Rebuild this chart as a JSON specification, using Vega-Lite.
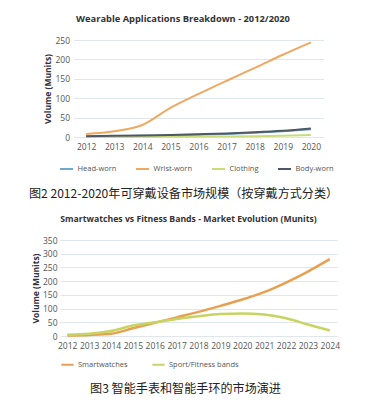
{
  "$schema": "https://vega.github.io/schema/vega-lite/v6.json",
  "background": "white",
  "padding": {"left": 28, "top": 14, "right": 0, "bottom": 0},
  "center": true,
  "bounds": "flush",
  "spacing": 103,
  "resolve": {"scale": {"color": "independent"}, "legend": {"color": "independent"}},
  "datasets": {
    "wear": [
      {"year": "2012", "type": "Head-worn", "v": 1}, {"year": "2013", "type": "Head-worn", "v": 2}, {"year": "2014", "type": "Head-worn", "v": 3}, {"year": "2015", "type": "Head-worn", "v": 4}, {"year": "2016", "type": "Head-worn", "v": 6}, {"year": "2017", "type": "Head-worn", "v": 8}, {"year": "2018", "type": "Head-worn", "v": 11}, {"year": "2019", "type": "Head-worn", "v": 15}, {"year": "2020", "type": "Head-worn", "v": 20},
      {"year": "2012", "type": "Wrist-worn", "v": 8}, {"year": "2013", "type": "Wrist-worn", "v": 15}, {"year": "2014", "type": "Wrist-worn", "v": 31}, {"year": "2015", "type": "Wrist-worn", "v": 75}, {"year": "2016", "type": "Wrist-worn", "v": 111}, {"year": "2017", "type": "Wrist-worn", "v": 145}, {"year": "2018", "type": "Wrist-worn", "v": 178}, {"year": "2019", "type": "Wrist-worn", "v": 212}, {"year": "2020", "type": "Wrist-worn", "v": 244},
      {"year": "2012", "type": "Clothing", "v": 0}, {"year": "2013", "type": "Clothing", "v": 0}, {"year": "2014", "type": "Clothing", "v": 0.5}, {"year": "2015", "type": "Clothing", "v": 0.5}, {"year": "2016", "type": "Clothing", "v": 1}, {"year": "2017", "type": "Clothing", "v": 1.5}, {"year": "2018", "type": "Clothing", "v": 2}, {"year": "2019", "type": "Clothing", "v": 3}, {"year": "2020", "type": "Clothing", "v": 5},
      {"year": "2012", "type": "Body-worn", "v": 2}, {"year": "2013", "type": "Body-worn", "v": 3}, {"year": "2014", "type": "Body-worn", "v": 4}, {"year": "2015", "type": "Body-worn", "v": 5}, {"year": "2016", "type": "Body-worn", "v": 7}, {"year": "2017", "type": "Body-worn", "v": 9}, {"year": "2018", "type": "Body-worn", "v": 12}, {"year": "2019", "type": "Body-worn", "v": 16}, {"year": "2020", "type": "Body-worn", "v": 22}
    ],
    "sw": [
      {"year": "2012", "type": "Smartwatches", "v": 2}, {"year": "2013", "type": "Smartwatches", "v": 4}, {"year": "2014", "type": "Smartwatches", "v": 8}, {"year": "2015", "type": "Smartwatches", "v": 28}, {"year": "2016", "type": "Smartwatches", "v": 48}, {"year": "2017", "type": "Smartwatches", "v": 68}, {"year": "2018", "type": "Smartwatches", "v": 88}, {"year": "2019", "type": "Smartwatches", "v": 110}, {"year": "2020", "type": "Smartwatches", "v": 133}, {"year": "2021", "type": "Smartwatches", "v": 160}, {"year": "2022", "type": "Smartwatches", "v": 195}, {"year": "2023", "type": "Smartwatches", "v": 235}, {"year": "2024", "type": "Smartwatches", "v": 280},
      {"year": "2012", "type": "Sport/Fitness bands", "v": 5}, {"year": "2013", "type": "Sport/Fitness bands", "v": 8}, {"year": "2014", "type": "Sport/Fitness bands", "v": 18}, {"year": "2015", "type": "Sport/Fitness bands", "v": 38}, {"year": "2016", "type": "Sport/Fitness bands", "v": 50}, {"year": "2017", "type": "Sport/Fitness bands", "v": 62}, {"year": "2018", "type": "Sport/Fitness bands", "v": 72}, {"year": "2019", "type": "Sport/Fitness bands", "v": 80}, {"year": "2020", "type": "Sport/Fitness bands", "v": 82}, {"year": "2021", "type": "Sport/Fitness bands", "v": 78}, {"year": "2022", "type": "Sport/Fitness bands", "v": 65}, {"year": "2023", "type": "Sport/Fitness bands", "v": 42}, {"year": "2024", "type": "Sport/Fitness bands", "v": 20}
    ]
  },
  "vconcat": [
    {
      "title": {"text": "图2 2012-2020年可穿戴设备市场规模（按穿戴方式分类）", "orient": "bottom", "anchor": "middle", "frame": "group", "dx": -15, "offset": 15, "font": "Noto Sans CJK SC", "fontSize": 12.1, "fontWeight": "normal", "color": "#222"},
      "width": 250,
      "height": 97,
      "data": {"name": "wear"},
      "resolve": {"axis": {"x": "independent"}},
      "encoding": {
        "y": {"field": "v", "type": "quantitative", "scale": {"domain": [0, 250]}, "axis": {"title": "Volume (Munits)", "titleFontSize": 8.5, "titleFontWeight": "bold", "titleColor": "#334", "titlePadding": 2, "values": [0, 50, 100, 150, 200, 250], "domain": false, "ticks": false, "labelFontSize": 8.5, "labelColor": "#555", "labelPadding": 4, "gridColor": "#dfe6ec"}}
      },
      "layer": [
        {
          "mark": {"type": "line", "opacity": 0},
          "encoding": {
            "x": {"field": "year", "type": "ordinal", "scale": {"type": "point", "padding": 0.45}, "axis": {"orient": "top", "title": "Wearable Applications Breakdown - 2012/2020", "titleFontSize": 9.3, "titleFont": "Open Sans", "titleFontWeight": "bold", "titleColor": "#333", "titlePadding": 17, "titleX": 109, "labels": false, "grid": false, "domain": false, "ticks": false}}
          }
        },
        {
          "mark": {"type": "line", "interpolate": "monotone", "strokeWidth": 2},
          "encoding": {
            "x": {"field": "year", "type": "ordinal", "axis": {"title": null, "labelAngle": 0, "grid": false, "domain": false, "ticks": false, "labelFontSize": 8.5, "labelColor": "#555", "labelPadding": 5}},
            "color": {"field": "type", "type": "nominal", "sort": ["Head-worn", "Wrist-worn", "Clothing", "Body-worn"], "scale": {"domain": ["Head-worn", "Wrist-worn", "Clothing", "Body-worn"], "range": ["#6fa8c8", "#f0a860", "#cadc78", "#4f5664"]}, "legend": {"orient": "none", "legendX": -15, "legendY": 121, "direction": "horizontal", "title": null, "symbolType": "stroke", "symbolStrokeWidth": 2, "symbolSize": 170, "labelFontSize": 7.5, "labelColor": "#555", "labelOffset": 3, "columnPadding": 15}}
          }
        }
      ]
    },
    {
      "title": {"text": "图3 智能手表和智能手环的市场演进", "orient": "bottom", "anchor": "middle", "frame": "group", "dx": -13, "offset": 14, "font": "Noto Sans CJK SC", "fontSize": 12.1, "fontWeight": "normal", "color": "#222"},
      "width": 277,
      "height": 96,
      "data": {"name": "sw"},
      "resolve": {"axis": {"x": "independent"}},
      "encoding": {
        "y": {"field": "v", "type": "quantitative", "scale": {"domain": [0, 350]}, "axis": {"title": "Volume (Munits)", "titleFontSize": 8.5, "titleFontWeight": "bold", "titleColor": "#334", "titlePadding": 2, "values": [0, 50, 100, 150, 200, 250, 300, 350], "domain": false, "ticks": false, "labelFontSize": 8.5, "labelColor": "#555", "labelPadding": 3, "gridColor": "#dfe6ec"}}
      },
      "layer": [
        {
          "mark": {"type": "line", "opacity": 0},
          "encoding": {
            "x": {"field": "year", "type": "ordinal", "scale": {"type": "point", "padding": 0.33}, "axis": {"orient": "top", "title": "Smartwatches vs Fitness Bands - Market Evolution (Munits)", "titleFontSize": 8.7, "titleFont": "Open Sans", "titleFontWeight": "bold", "titleColor": "#333", "titlePadding": 17, "titleX": 128, "labels": false, "grid": false, "domain": false, "ticks": false}}
          }
        },
        {
          "mark": {"type": "line", "interpolate": "monotone", "strokeWidth": 2.5},
          "encoding": {
            "x": {"field": "year", "type": "ordinal", "axis": {"title": null, "labelAngle": 0, "grid": false, "domain": false, "ticks": false, "labelFontSize": 8.5, "labelColor": "#555", "labelPadding": 5}},
            "color": {"field": "type", "type": "nominal", "scale": {"domain": ["Smartwatches", "Sport/Fitness bands"], "range": ["#e8a050", "#c8d462"]}, "legend": {"orient": "none", "legendX": 0, "legendY": 117, "direction": "horizontal", "title": null, "symbolType": "stroke", "symbolStrokeWidth": 2, "symbolSize": 150, "labelFontSize": 7.5, "labelColor": "#555", "labelOffset": 3, "columnPadding": 20}}
          }
        }
      ]
    }
  ],
  "config": {"view": {"stroke": null}, "font": "Open Sans"}
}
